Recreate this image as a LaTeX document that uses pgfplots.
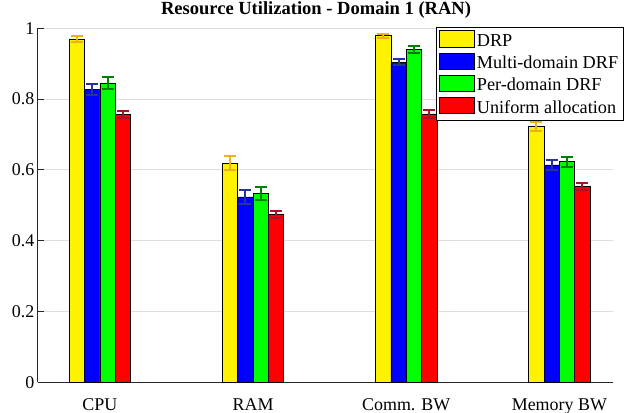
\documentclass[border=0pt]{standalone}
\usepackage{fontspec}
\setmainfont{Liberation Serif}
\usepackage{pgfplots}
\usepackage{pgfplotstable}
\pgfplotsset{compat=1.18}
\definecolor{errY}{rgb}{0.93,0.69,0.13}
\definecolor{errB}{rgb}{0.15,0.2,0.6}
\definecolor{errG}{rgb}{0,0.5,0}
\definecolor{errR}{rgb}{0.64,0.08,0.18}
\definecolor{gridc}{rgb}{0.87,0.87,0.87}
\pgfplotstableread{
x y e
1 0.970 0.008
2 0.619 0.019
3 0.979 0.006
4 0.722 0.013
}\drp
\pgfplotstableread{
x y e
1 0.828 0.016
2 0.524 0.020
3 0.904 0.008
4 0.614 0.015
}\mdrf
\pgfplotstableread{
x y e
1 0.846 0.017
2 0.534 0.019
3 0.940 0.010
4 0.623 0.014
}\pdrf
\pgfplotstableread{
x y e
1 0.757 0.010
2 0.475 0.010
3 0.758 0.011
4 0.553 0.010
}\unif
\begin{document}
\begin{tikzpicture}
\begin{axis}[name=ax, scale only axis, width=575.1bp, height=354bp,
  xmin=0.595, xmax=4.35, ymin=0, ymax=1,
  xtick={1,2,3,4}, xticklabels={CPU,RAM,Comm. BW,Memory BW},
  ytick={0,0.2,0.4,0.6,0.8,1}, yticklabels={0,0.2,0.4,0.6,0.8,1},
  ymajorgrids, grid style={gridc, line width=0.8bp},
  axis x line*=bottom, axis y line*=left,
  axis line style={-, black!85, line width=0.8bp},
  major tick length=6bp, tick align=inside,
  x tick style={draw=none}, y tick style={black!85, line width=0.8bp},
  font=\fontsize{18}{21}\selectfont,
  /pgf/number format/assume math mode=true,
  x tick label style={yshift=-6.5bp},
  title={Resource Utilization - Domain 1 (RAN)},
  title style={at={(0.4836,1)}, anchor=base, yshift=7.6bp, font=\fontsize{18.6}{21}\selectfont\bfseries},
  ybar=0pt, bar width=0.1,
  legend style={at={(0.692,1.003)}, anchor=north west, draw=black, line width=0.8bp, fill=white,
    font=\fontsize{18.3}{21}\selectfont, inner xsep=3bp, inner ysep=2bp, row sep=0pt,
    nodes={text height=14.8bp, text depth=3.4bp, inner ysep=2bp, inner xsep=2bp},
    cells={anchor=west}},
  legend image code/.code={\path[use as bounding box] (0bp,0bp) rectangle (35bp,10bp);
    \draw[#1, line width=0.6bp, draw=black] (0bp,-6.3bp) rectangle (35bp,10.1bp);},
]
\addplot[fill=yellow, draw=black, line width=0.6bp, bar shift=-0.15,
  error bars/.cd, y dir=both, y explicit,
  error bar style={errY, line width=2bp},
  error mark options={errY, rotate=90, mark size=6bp, line width=2bp}]
  table[x=x, y=y, y error=e] {\drp};
\addlegendentry{DRP}
\addplot[fill=blue, draw=black, line width=0.6bp, bar shift=-0.05,
  error bars/.cd, y dir=both, y explicit,
  error bar style={errB, line width=2bp},
  error mark options={errB, rotate=90, mark size=6bp, line width=2bp}]
  table[x=x, y=y, y error=e] {\mdrf};
\addlegendentry{Multi-domain DRF}
\addplot[fill=green, draw=black, line width=0.6bp, bar shift=0.05,
  error bars/.cd, y dir=both, y explicit,
  error bar style={errG, line width=2bp},
  error mark options={errG, rotate=90, mark size=6bp, line width=2bp}]
  table[x=x, y=y, y error=e] {\pdrf};
\addlegendentry{Per-domain DRF}
\addplot[fill=red, draw=black, line width=0.6bp, bar shift=0.15,
  error bars/.cd, y dir=both, y explicit,
  error bar style={errR, line width=2bp},
  error mark options={errR, rotate=90, mark size=6bp, line width=2bp}]
  table[x=x, y=y, y error=e] {\unif};
\addlegendentry{Uniform allocation}
\end{axis}
\pgfresetboundingbox
\path ([shift={(-37.9bp,-30.7bp)}]ax.south west) rectangle ([shift={(12bp,28.3bp)}]ax.north east);
\end{tikzpicture}
\end{document}
